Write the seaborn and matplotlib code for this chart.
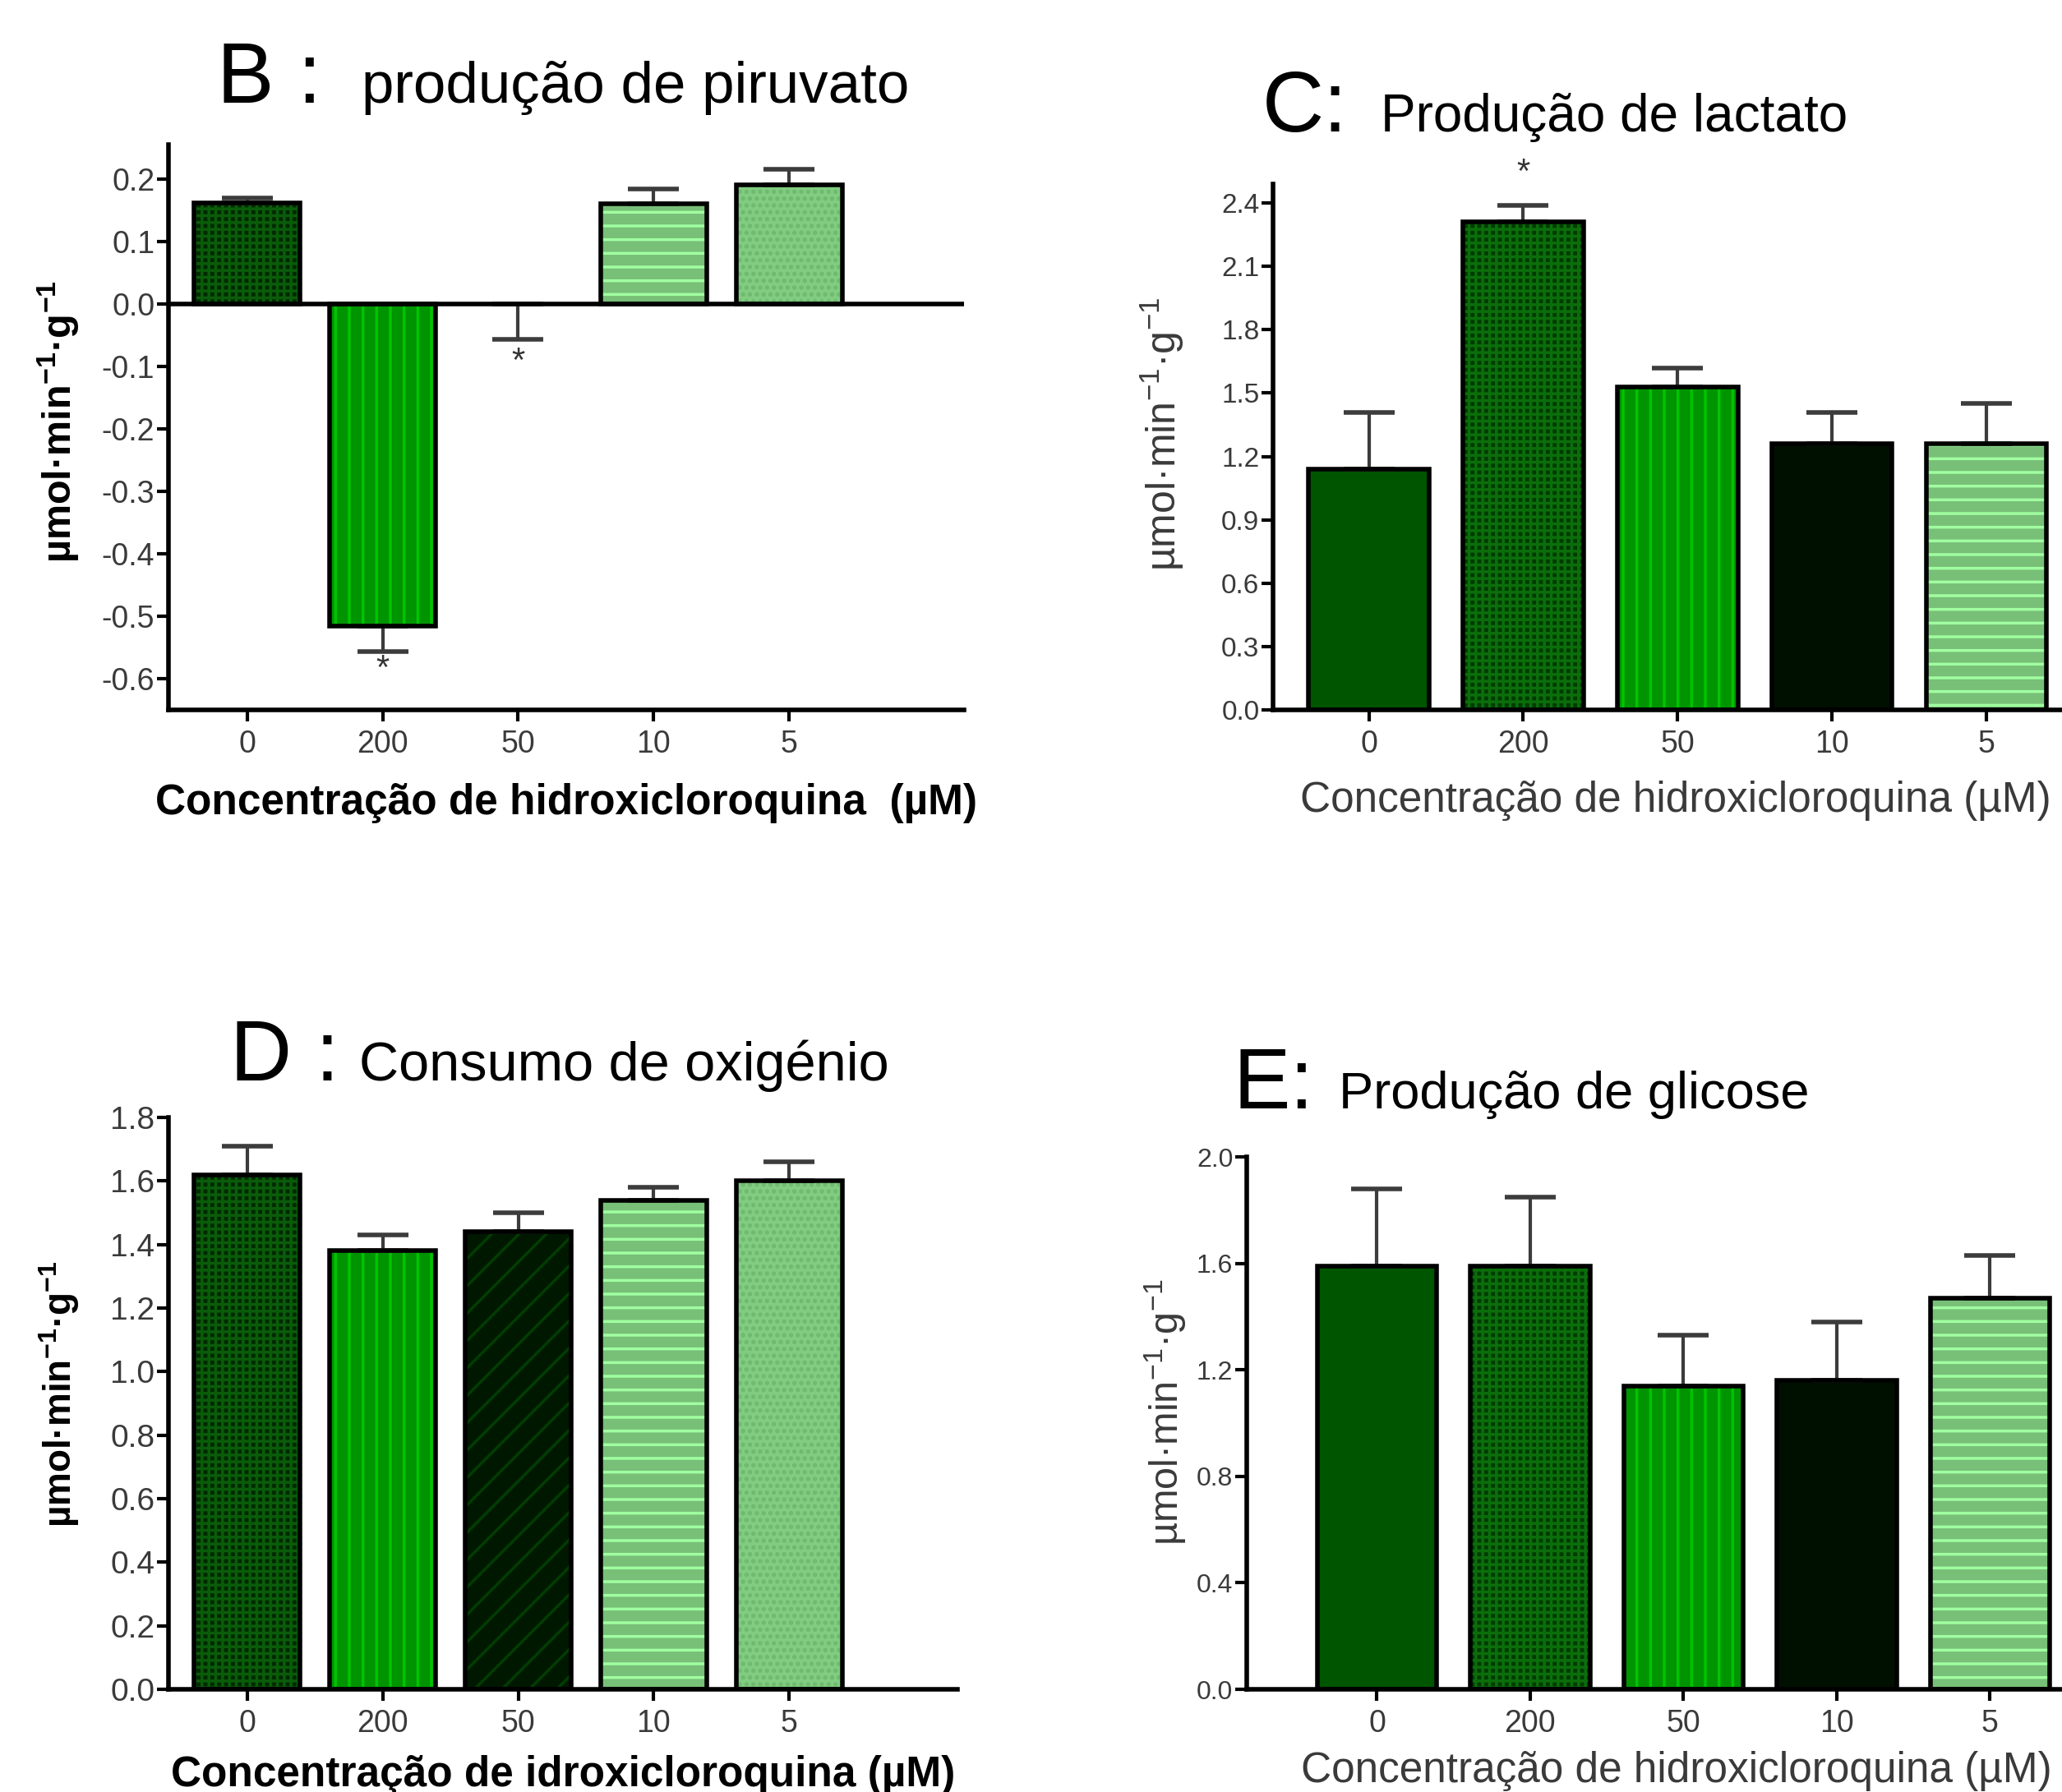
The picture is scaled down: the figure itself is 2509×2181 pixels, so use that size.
import matplotlib
matplotlib.use("Agg")
import matplotlib.pyplot as plt
from matplotlib.patches import Rectangle
import seaborn as sns

doses = ["0", "200", "50", "10", "5"]

pyruvate_mean = [0.162, -0.516, 0.0, 0.16, 0.19]
pyruvate_err = [0.008, 0.041, 0.057, 0.024, 0.025]

lactate_mean = [1.14, 2.31, 1.53, 1.26, 1.26]
lactate_err = [0.27, 0.08, 0.09, 0.15, 0.19]

oxygen_mean = [1.62, 1.38, 1.44, 1.54, 1.60]
oxygen_err = [0.09, 0.05, 0.06, 0.04, 0.06]

glucose_mean = [1.59, 1.59, 1.14, 1.16, 1.47]
glucose_err = [0.29, 0.26, 0.19, 0.22, 0.16]

# fill styles: (face, hatch colour, hatch)
CHECK = ("#002a00", "#0a5c0a", "++")
CHECK2 = ("#003c00", "#0b6e0b", "++")
VSTRIPE = ("#009400", "#00c400", "|")
DIAG = ("#001800", "#023c02", "/")
HSTRIPE = ("#78bf78", "#a0ffa0", "-")
DOTS = ("#80cc80", "#6fb86f", "..")
SOLID = ("#005500", "#005500", "")
BLACKISH = ("#001000", "#021c02", "")

sns.set_style("white")
plt.rcParams["font.family"] = ["Liberation Sans", "DejaVu Sans"]
plt.rcParams["mathtext.default"] = "regular"
plt.rcParams["hatch.linewidth"] = 2.5
plt.rcParams["text.color"] = "black"

fig = plt.figure(figsize=(25.09, 21.81), dpi=100)

ylab = "µmol·min$^{-1}$·g$^{-1}$"


def panel(rect, means, errs, styles, xlim, ylim, yticks, xlabel, bold,
          ytick_size, ylab_size, lab_xy, xlab_xy):
    ax = fig.add_axes(rect)
    sns.barplot(x=doses, y=means, hue=doses, palette=[s[0] for s in styles],
                legend=False, errorbar=None, saturation=1, width=0.78,
                linewidth=0, ax=ax)
    for p, s in zip(ax.patches, styles):
        p.set_edgecolor(s[1])
        p.set_hatch(s[2])
        if p.get_height() == 0:
            continue
        ax.add_patch(Rectangle((p.get_x(), p.get_y()), p.get_width(), p.get_height(),
                               facecolor="none", edgecolor="black", linewidth=4, zorder=3))
    for i, p in enumerate(ax.patches[:len(doses)]):
        cx = p.get_x() + p.get_width() / 2
        m, e = means[i], errs[i]
        yerr = [[e], [0]] if m <= 0 else [[0], [e]]
        ax.errorbar([cx], [m], yerr=yerr, fmt="none", ecolor="#3c3c3c",
                    elinewidth=3, capsize=22, capthick=4, zorder=2)
    ax.set_xlim(*xlim)
    ax.set_ylim(*ylim)
    ax.set_yticks(yticks)
    ax.set_yticklabels([f"{t:.1f}" for t in yticks])
    sns.despine(ax=ax)
    for side in ["left", "bottom"]:
        ax.spines[side].set_linewidth(4)
        ax.spines[side].set_color("black")
    ax.tick_params(axis="both", direction="out", length=10, width=3,
                   labelcolor="#3a3a3a", color="black", left=True, bottom=True)
    ax.tick_params(axis="x", labelsize=27, pad=7)
    ax.tick_params(axis="y", labelsize=ytick_size, pad=2)
    w = "bold" if bold else "normal"
    c = "black" if bold else "#3a3a3a"
    ax.set_ylabel(ylab, fontsize=ylab_size, fontweight=w, color=c)
    ax.yaxis.set_label_coords(*lab_xy)
    ax.set_xlabel(xlabel, fontsize=37, fontweight=w, color=c, va="top")
    ax.xaxis.set_label_coords(*xlab_xy)
    return ax


xl = "Concentração de hidroxicloroquina (µM)"

axB = panel([0.0817, 0.6039, 0.3858, 0.3154], pyruvate_mean, pyruvate_err,
            [CHECK, VSTRIPE, DIAG, HSTRIPE, DOTS], (-0.58, 5.29), (-0.65, 0.255),
            [0.2, 0.1, 0.0, -0.1, -0.2, -0.3, -0.4, -0.5, -0.6],
            "Concentração de hidroxicloroquina  (µM)", True, 27, 35, (-0.11, 0.51), (0.5, -0.13))
axB.axhline(0, color="black", lw=4, zorder=4)
axB.text(1, -0.585, "*", ha="center", va="center", fontsize=30, color="#333333")
axB.text(2, -0.094, "*", ha="center", va="center", fontsize=30, color="#333333")

axC = panel([0.6174, 0.6039, 0.3826, 0.2934], lactate_mean, lactate_err,
            [SOLID, CHECK2, VSTRIPE, BLACKISH, HSTRIPE], (-0.62, 4.49), (0, 2.49),
            [0.0, 0.3, 0.6, 0.9, 1.2, 1.5, 1.8, 2.1, 2.4],
            xl, False, 24, 36, (-0.11, 0.525), (0.51, -0.135))
axC.text(1, 2.54, "*", ha="center", va="center", fontsize=30, color="#333333")

axD = panel([0.0817, 0.0573, 0.3826, 0.3191], oxygen_mean, oxygen_err,
            [CHECK, VSTRIPE, DIAG, HSTRIPE, DOTS], (-0.58, 5.24), (0, 1.8),
            [0.0, 0.2, 0.4, 0.6, 0.8, 1.0, 1.2, 1.4, 1.6, 1.8],
            "Concentração de idroxicloroquina (µM)", True, 28, 33, (-0.11, 0.517), (0.5, -0.115))

axE = panel([0.6046, 0.0573, 0.3954, 0.2971], glucose_mean, glucose_err,
            [SOLID, CHECK2, VSTRIPE, BLACKISH, HSTRIPE], (-0.85, 4.47), (0, 2.0),
            [0.0, 0.4, 0.8, 1.2, 1.6, 2.0],
            xl, False, 23, 35, (-0.072, 0.52), (0.527, -0.115))

# panel titles
titles = [("B :", "produção de piruvato", 0.1052, 0.1754, 0.9427, 51),
          ("C:", "Produção de lactato", 0.6122, 0.6696, 0.9266, 46),
          ("D :", "Consumo de oxigénio", 0.1116, 0.1741, 0.397, 48),
          ("E:", "Produção de glicose", 0.5982, 0.6492, 0.3815, 45.5)]
for letter, txt, lx, tx, y, fs in titles:
    fig.text(lx, y, letter, fontsize=75, va="baseline", ha="left")
    fig.text(tx, y, txt, fontsize=fs, va="baseline", ha="left")

fig.savefig("out.png", dpi=100)
